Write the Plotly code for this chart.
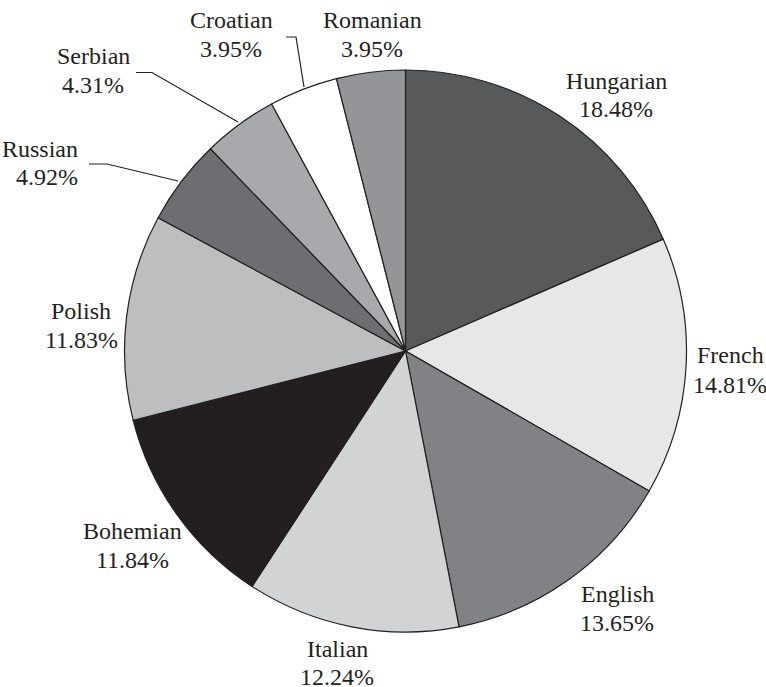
import plotly.graph_objects as go

W, H = 766, 687

# Data, clockwise from 12 o'clock
languages = ["Hungarian", "French", "English", "Italian", "Bohemian",
             "Polish", "Russian", "Serbian", "Croatian", "Romanian"]
shares = [18.48, 14.81, 13.65, 12.24, 11.84, 11.83, 4.92, 4.31, 3.95, 3.95]

slice_colors = ["#58595b", "#e6e7e8", "#808285", "#d1d3d4", "#231f20",
                "#bcbec0", "#6d6e71", "#a7a9ac", "#ffffff", "#939598"]

# pie geometry (pixels)
CX, CY, R = 405.5, 351, 281

# label placement in pixels: x, y of name line, y of percent line, x anchor
label_pos = {
    "Hungarian": (616, 81, 109.5, "center"),
    "French": (730, 355, 384.5, "center"),
    "English": (617, 594, 622.5, "center"),
    "Italian": (337, 648.5, 677, "center"),
    "Bohemian": (132, 531, 559.5, "center"),
    "Polish": (81, 310.5, 339.5, "center"),
    "Russian": (80, 148.5, 177, "right"),
    "Serbian": (93, 56, 85, "center"),
    "Croatian": (231, 20, 49, "center"),
    "Romanian": (372, 20, 49, "center"),
}

# leader lines (pixel polylines)
leaders = [
    [(286, 37), (296, 37), (304, 87)],
    [(136, 72.5), (152, 72.5), (238, 122)],
    [(89, 164), (107, 164), (178, 181)],
]


def px(x, y):
    return x / W, 1 - y / H


(x0, y1), (x1, y0) = px(CX - R, CY - R), px(CX + R, CY + R)

fig = go.Figure(
    go.Pie(
        labels=languages,
        values=shares,
        sort=False,
        direction="clockwise",
        rotation=0,
        textinfo="none",
        hoverinfo="label+percent",
        marker={"colors": slice_colors, "line": {"color": "#231f20", "width": 1.2}},
        domain={"x": [x0, x1], "y": [y0, y1]},
        showlegend=False,
    )
)

font = {"family": "Liberation Serif", "size": 24, "color": "#231f20"}
for name, val in zip(languages, shares):
    x, ya, yb, anchor = label_pos[name]
    for text, y in ((name, ya), (f"{val:.2f}%", yb)):
        ax, ay = px(x, y)
        fig.add_annotation(
            x=ax, y=ay, xref="paper", yref="paper", text=text,
            showarrow=False, xanchor=anchor, yanchor="middle", font=font,
        )

for pts in leaders:
    path = "M " + " L ".join(f"{px(x, y)[0]},{px(x, y)[1]}" for x, y in pts)
    fig.add_shape(type="path", path=path, xref="paper", yref="paper",
                  line={"color": "#231f20", "width": 1.2})

fig.update_layout(
    width=W, height=H,
    margin={"l": 0, "r": 0, "t": 0, "b": 0},
    paper_bgcolor="white",
    plot_bgcolor="white",
)

# drop the default page margin so the figure fills the window exactly
fig.write_html("out.html", config={"displayModeBar": False},
               post_script="document.body.style.margin = '0';")
